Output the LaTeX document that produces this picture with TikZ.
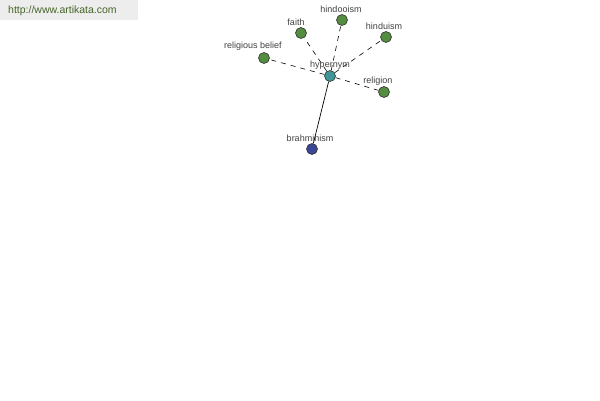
\documentclass[tikz,border=0pt]{standalone}
\usepackage{fontspec}
\setmainfont{Liberation Sans}
\begin{document}
\begin{tikzpicture}[x=1pt,y=-1pt,
  lbl/.style={font=\fontsize{9}{10}\selectfont, text=black!75, inner sep=0pt},
  gnode/.style={circle, draw=black!80, fill={rgb,255:red,84;green,140;blue,64}, minimum size=11pt, inner sep=0pt, line width=0.6pt},
  hnode/.style={gnode, fill={rgb,255:red,64;green,150;blue,150}},
  bnode/.style={gnode, fill={rgb,255:red,60;green,70;blue,150}},
  rel/.style={dashed, dash pattern=on 5pt off 5pt, line width=0.6pt},
  link/.style={line width=0.7pt}]
\useasboundingbox (0,0) rectangle (600,400);
\fill[black!7] (0,0) rectangle (138,20);
\node[font=\fontsize{10.5}{12}\selectfont, text={rgb,255:red,70;green,100;blue,40}, anchor=west, inner sep=0pt] (url) at (8,11) {http://www.artikata.com};
\node[hnode] (hyp) at (330,76) {};
\node[gnode] (faith) at (301,33) {};
\node[gnode] (hindoo) at (342,20) {};
\node[gnode] (hindu) at (386,37) {};
\node[gnode] (relb) at (264,58) {};
\node[gnode] (relig) at (384,92) {};
\node[bnode] (brah) at (312,149) {};
\draw[rel] (hyp) -- (faith);
\draw[rel] (hyp) -- (hindoo);
\draw[rel] (hyp) -- (hindu);
\draw[rel] (hyp) -- (relb);
\draw[rel] (hyp) -- (relig);
\draw[link] (hyp) -- (brah);
\node[lbl] (lhyp) at (330,65) {hypernym};
\node[lbl] (lfaith) at (296,22) {faith};
\node[lbl] (lhindoo) at (341,9) {hindooism};
\node[lbl] (lhindu) at (384,26) {hinduism};
\node[lbl] (lrelb) at (253,46) {religious belief};
\node[lbl] (lrelig) at (378,81) {religion};
\node[lbl] (lbrah) at (310,138) {brahminism};
\end{tikzpicture}
\end{document}
